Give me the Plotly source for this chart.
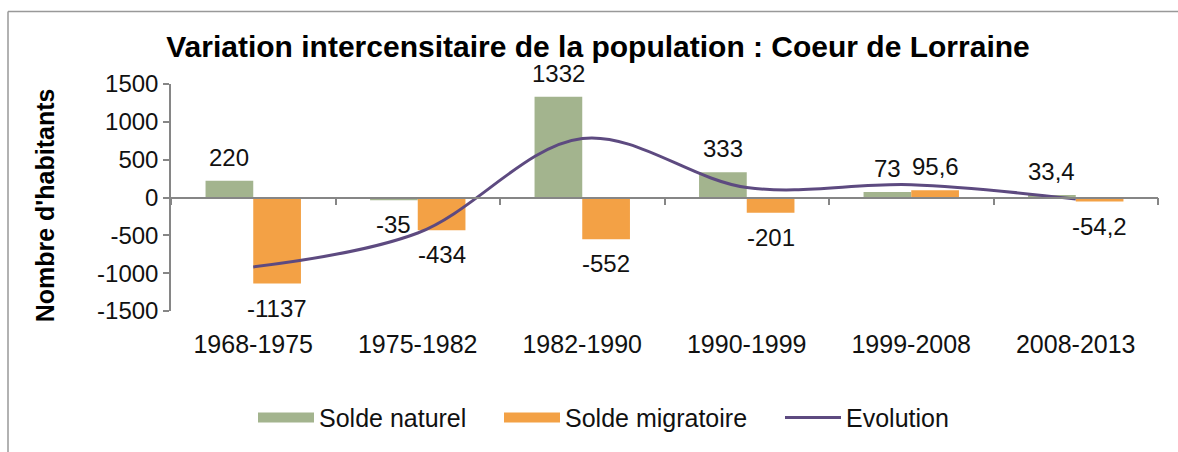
import plotly.graph_objects as go

categories = ["1968-1975", "1975-1982", "1982-1990", "1990-1999", "1999-2008", "2008-2013"]
solde_naturel = [220, -35, 1332, 333, 73, 33.4]
solde_migratoire = [-1137, -434, -552, -201, 95.6, -54.2]
evolution = [-917, -469, 780, 132, 168.6, -20.8]
y_ticks = [-1500, -1000, -500, 0, 500, 1000, 1500]
y_tick_labels = ["-1500", "-1000", "-500", "0", "500", "1000", "1500"]

FONT = "Liberation Sans, Arial, sans-serif"
GREEN = "#a3b48e"
ORANGE = "#f3a145"
PURPLE = "#5d4a80"
GRAY = "#868686"

W, H = 1178, 452
L, R, T, B = 171, 20, 84, 136
PW, PH = W - L - R, H - T - B


def px_x(p):
    return (p - L) / PW


def px_y(p):
    return (H - B - p) / PH


xs = list(range(len(categories)))
BARGAP = 0.42
half = (1 - BARGAP) / 4  # centre offset of each bar in a group of two
ITEMW = 56


def fmt(v):
    return ("%g" % v).replace(".", ",")


fig = go.Figure()
fig.add_trace(go.Bar(x=xs, y=solde_naturel, name="Solde naturel", marker_color=GREEN,
                     marker_line_width=0, showlegend=False))
fig.add_trace(go.Bar(x=xs, y=solde_migratoire, name="Solde migratoire", marker_color=ORANGE,
                     marker_line_width=0, showlegend=False))
fig.add_trace(go.Scatter(x=xs, y=evolution, name="Evolution", mode="lines", legend="legend3",
                         line=dict(color=PURPLE, width=3, shape="spline", smoothing=1)))

# legend entries drawn as wide swatches, like the original
fig.add_trace(go.Scatter(x=[None], y=[None], name="Solde naturel", mode="lines",
                         line=dict(color=GREEN, width=13), legend="legend", hoverinfo="skip"))
fig.add_trace(go.Scatter(x=[None], y=[None], name="Solde migratoire", mode="lines",
                         line=dict(color=ORANGE, width=13), legend="legend2", hoverinfo="skip"))

# invisible trace for the zero-line axis with boundary ticks
fig.add_trace(go.Scatter(x=[xs[0], xs[-1]], y=[0, 0], xaxis="x2", mode="lines",
                         line=dict(width=0), showlegend=False, hoverinfo="skip"))

annotations = []
for series, off in ((solde_naturel, -half), (solde_migratoire, half)):
    for i, v in enumerate(series):
        annotations.append(dict(
            x=xs[i] + off, y=v, xref="x", yref="y", text=fmt(v), showarrow=False,
            yanchor="bottom" if v >= 0 else "top", yshift=8 if v >= 0 else -9,
            font=dict(family=FONT, size=24, color="#111111")))
annotations.append(dict(
    x=px_x(45), y=px_y(208), xref="paper", yref="paper", text="<b>Nombre d'habitants</b>",
    textangle=-90, showarrow=False, xanchor="center", yanchor="middle",
    font=dict(family=FONT, size=25, color="#000000")))

legend_font = dict(family=FONT, size=25, color="#111111")


def leg(text_x):
    return dict(orientation="h", x=px_x(text_x - ITEMW - 10), xanchor="left",
                y=px_y(425), yanchor="middle", font=legend_font, bgcolor="rgba(0,0,0,0)",
                itemwidth=ITEMW)


fig.update_layout(
    width=W, height=H,
    margin=dict(l=L, r=R, t=T, b=B),
    paper_bgcolor="white", plot_bgcolor="white",
    barmode="group", bargap=BARGAP, bargroupgap=0,
    title=dict(text="<b>Variation intercensitaire de la population : Coeur de Lorraine</b>",
               x=(166 + 1030) / 2 / W, xanchor="center", y=1 - 46 / H, yanchor="middle",
               font=dict(family=FONT, size=30, color="#000000")),
    xaxis=dict(range=[-0.5, len(categories) - 0.5], tickvals=xs, ticktext=categories,
               showline=False, ticks="", showgrid=False, zeroline=False, automargin=False,
               tickfont=dict(family=FONT, size=25, color="#111111"), ticklabelstandoff=16),
    xaxis2=dict(range=[-0.5, len(categories) - 0.5], overlaying="x", anchor="free", position=0.5,
                side="bottom", showline=True, linecolor=GRAY, linewidth=1.5,
                tickvals=[x - 0.5 for x in xs] + [xs[-1] + 0.5], ticks="outside",
                ticklen=7, tickcolor=GRAY, tickwidth=1.5, showticklabels=False,
                showgrid=False, zeroline=False, automargin=False),
    yaxis=dict(range=[-1500, 1500], tickvals=y_ticks, ticktext=y_tick_labels,
               showgrid=False, zeroline=False, automargin=False,
               showline=True, linecolor=GRAY, linewidth=1.5, ticks="outside", ticklen=6,
               tickcolor=GRAY, tickwidth=1.5,
               tickfont=dict(family=FONT, size=24, color="#111111")),
    legend=leg(319),
    legend2=leg(565),
    legend3=leg(846),
    annotations=annotations,
    shapes=[
        dict(type="line", xref="paper", yref="paper", x0=px_x(8), x1=1.2,
             y0=px_y(10), y1=px_y(10), line=dict(color="#999999", width=1.5)),
        dict(type="line", xref="paper", yref="paper", x0=px_x(8), x1=px_x(8),
             y0=px_y(10), y1=-1.0, line=dict(color="#999999", width=1.5)),
    ],
)

fig.write_html("out.html", config={"displayModeBar": False},
               post_script="document.body.style.margin='0px';")
